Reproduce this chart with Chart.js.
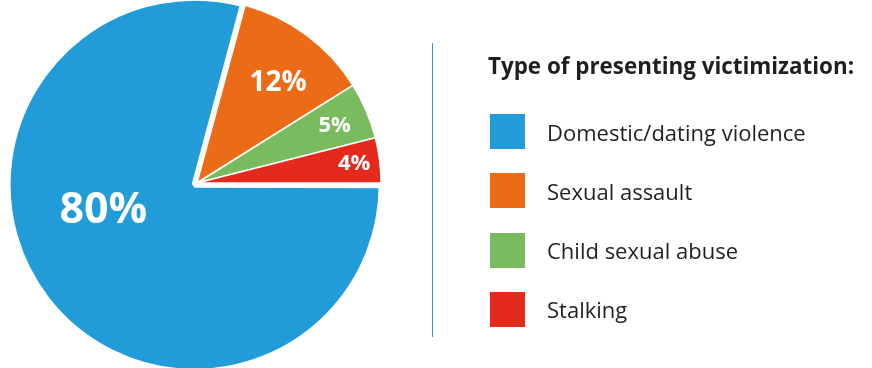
<!DOCTYPE html>
<html>
<head>
<meta charset="utf-8">
<script src="https://cdn.jsdelivr.net/npm/chart.js@4/dist/chart.umd.min.js"></script>
<style>
  html, body { margin: 0; padding: 0; background: #fff; }
  #wrap { position: relative; width: 872px; height: 368px; overflow: hidden; font-family: "Open Sans", Lato, sans-serif; color: #231f20; }
  #c { position: absolute; left: 0; top: 0; }
  #divider { position: absolute; left: 432px; top: 43px; width: 1.3px; height: 294px; background: #3c93d3; }
  #legendTitle { position: absolute; left: 488px; top: 55px; font-weight: 700; font-size: 22.4px; line-height: 1; white-space: nowrap; color: #1f1f1f; }
  .row { position: absolute; left: 490px; height: 35px; display: flex; align-items: center; white-space: nowrap; }
  .sw { width: 35px; height: 35px; margin-right: 22px; }
  .lab { font-size: 22px; line-height: 1; }
</style>
</head>
<body>
<div id="wrap">
  <canvas id="c" width="872" height="368"></canvas>
  <div id="divider"></div>
  <div id="legendTitle"></div>
  <div id="legend"></div>
</div>
<script>
const categories = ["Domestic/dating violence", "Sexual assault", "Child sexual abuse", "Stalking"];
const values = [80, 12, 5, 4];
const colors = ["#219cd8", "#eb6b16", "#79bc5f", "#e42a1d"];
const legendTitle = "Type of presenting victimization:";

// label placement style (per slice): radial fraction, angle shift (deg), font size
const labelRadius = [0.50, 0.70, 0.81, 0.86];
const labelAngleShift = [22.5, 2.5, 0.6, 0.2];
const labelSize = [43, 28, 22, 22];

document.getElementById('legendTitle').textContent = legendTitle;
const leg = document.getElementById('legend');
categories.forEach((name, i) => {
  const row = document.createElement('div');
  row.className = 'row';
  row.style.top = (114 + i * 59.3) + 'px';
  const sw = document.createElement('div');
  sw.className = 'sw';
  sw.style.background = colors[i];
  const t = document.createElement('div');
  t.className = 'lab';
  t.textContent = name;
  row.appendChild(sw); row.appendChild(t);
  leg.appendChild(row);
});

const pctLabels = {
  id: 'pctLabels',
  afterDatasetsDraw(chart) {
    const ctx = chart.ctx;
    const meta = chart.getDatasetMeta(0);
    ctx.save();
    ctx.fillStyle = '#ffffff';
    ctx.textAlign = 'center';
    ctx.textBaseline = 'middle';
    meta.data.forEach((el, i) => {
      const p = el.getProps(['x', 'y', 'startAngle', 'endAngle', 'outerRadius', 'circumference'], true);
      const mid = (p.startAngle + p.endAngle) / 2;
      // same shift as Chart.js ArcElement.draw applies for "offset"
      const o4 = (el.options.offset || 0) / 4;
      const fix = 1 - Math.sin(Math.min(Math.PI, p.circumference || 0));
      const off = o4 + o4 * fix;
      const cx = p.x + Math.cos(mid) * off;
      const cy = p.y + Math.sin(mid) * off;
      const a = mid + labelAngleShift[i] * Math.PI / 180;
      const r = p.outerRadius * labelRadius[i];
      ctx.font = '700 ' + labelSize[i] + 'px "Open Sans", Lato, sans-serif';
      ctx.fillText(values[i] + '%', cx + Math.cos(a) * r, cy + Math.sin(a) * r);
    });
    ctx.restore();
  }
};

new Chart(document.getElementById('c'), {
  type: 'pie',
  data: {
    labels: categories,
    datasets: [{
      data: values,
      backgroundColor: colors,
      borderColor: '#ffffff',
      borderWidth: [6, 1.5, 1.5, 1.5],
      offset: [12, 0, 0, 0],
      clip: false
    }]
  },
  options: {
    responsive: false,
    animation: false,
    rotation: 90,
    radius: 184,
    layout: { padding: { left: 0, top: 0, right: 478, bottom: 2 } },
    plugins: { legend: { display: false }, tooltip: { enabled: false } },
    events: []
  },
  plugins: [pctLabels]
});
</script>
</body>
</html>
